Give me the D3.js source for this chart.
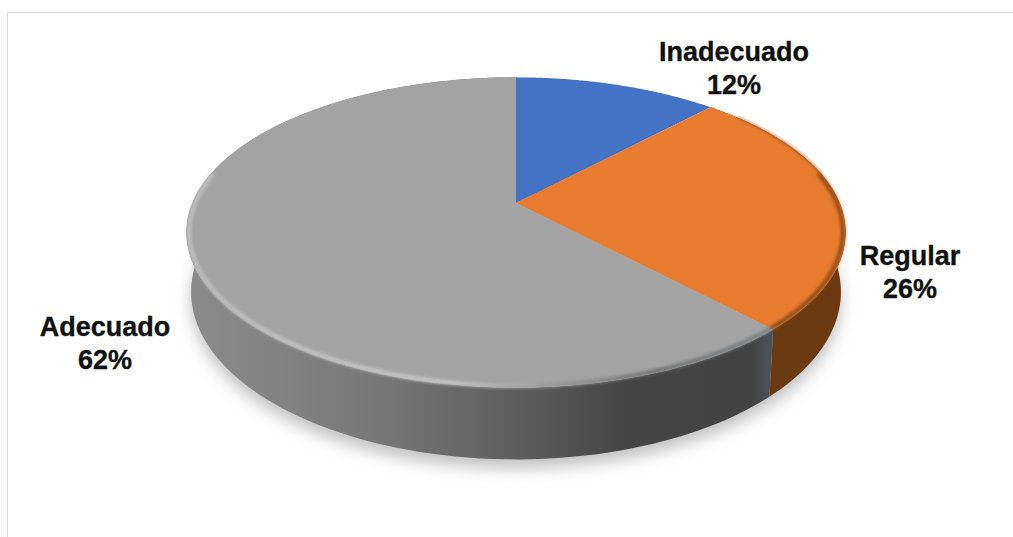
<!DOCTYPE html>
<html><head><meta charset="utf-8">
<script src="https://cdn.jsdelivr.net/npm/d3@7"></script>
<style>html,body{margin:0;padding:0;background:#fff}svg{display:block}text{font-family:"Liberation Sans",Arial,sans-serif;font-weight:700;font-size:27px;fill:#111;stroke:#111;stroke-width:.35px}</style>
</head><body><div id="c"></div>
<script>
const categories = ["Inadecuado", "Regular", "Adecuado"];
const values = [12, 26, 62];
const topColors = ["#4472c4", "#e97b2e", "#a3a3a3"];
const sideColors = ["#2a4a80", "#6c3a10", "#555555"];
const labelPos = [[734, 61], [910, 265], [105, 336]];

const W = 1013, H = 537;
const svg = d3.select("#c").append("svg").attr("width", W).attr("height", H);
const defs = svg.append("defs");
const blur = (id, s) => defs.append("filter").attr("id", id)
  .attr("x", "-20%").attr("y", "-20%").attr("width", "140%").attr("height", "140%")
  .append("feGaussianBlur").attr("stdDeviation", s);
blur("b1", 1.6); blur("sh", 8);

// perspective projection of the disc
const cx = 516, cy = 203, K = 0.19;
const project = (rx, ry, y0, inset) => a => {
  const x = Math.sin(a) * inset, y = -Math.cos(a) * inset, d = 1 - K * y;
  return [cx + rx * x / d, y0 + ry * y / d];
};
const topProj = project(323.6, 149.5, cy, 1);
const rimProj = project(323.6, 149.5, cy, 0.992);
const botProj = project(319, 161.5, 260, 1);

const pie = d3.pie().sort(null)(values);
const line = d3.line();
const samples = (a0, a1) => d3.range(0, 121).map(i => a0 + (a1 - a0) * i / 120);
const sector = (s) => line([[cx, cy], ...samples(s.startAngle, s.endAngle).map(topProj)]) + "Z";
const band = (a0, a1) => { const r = samples(a0, a1);
  return line([...r.map(topProj), ...r.slice().reverse().map(botProj)]) + "Z"; };
const arc = (a0, a1, proj) => line(samples(a0, a1).map(proj));
const rad = d => d * Math.PI / 180;

// gradient of the grey wall, from left to right
const wall = defs.append("linearGradient").attr("id", "wall").attr("gradientUnits", "userSpaceOnUse")
  .attr("x1", 186).attr("x2", 770).attr("y1", 0).attr("y2", 0);
[[0, "#8b8b8b"], [.3, "#7a7a7a"], [.55, "#606060"], [.75, "#454545"], [.97, "#434343"], [1, "#4a525a"]]
  .forEach(([o, c]) => wall.append("stop").attr("offset", o).attr("stop-color", c));
const rim = defs.append("linearGradient").attr("id", "rim").attr("gradientUnits", "userSpaceOnUse")
  .attr("x1", 186).attr("x2", 770).attr("y1", 0).attr("y2", 0);
[[0, "#bdbdbd"], [.45, "#c4c4c4"], [.6, "#a0a0a0"], [.8, "#767676"], [1, "#808488"]]
  .forEach(([o, c]) => rim.append("stop").attr("offset", o).attr("stop-color", c));

// frame
svg.append("path").attr("d", line([[7.5, H], [7.5, 12.5], [W, 12.5]])).attr("fill", "none").attr("stroke", "#d9d9d9");

// shadow
svg.append("path").attr("d", arc(0, 2 * Math.PI, a => { const p = botProj(a); return [p[0], p[1] + 9]; }))
  .attr("fill", "#c0c0c0").attr("filter", "url(#sh)");

// walls
const grey = pie[2], orange = pie[1];
svg.append("path").attr("d", band(grey.startAngle, grey.endAngle)).attr("fill", "url(#wall)");
svg.append("path").attr("d", band(orange.startAngle, orange.endAngle)).attr("fill", sideColors[1]);

// top faces
svg.selectAll("path.top").data(pie).join("path").attr("class", "top")
  .attr("d", sector).attr("fill", (d, i) => topColors[i]);

// bevel: only the near part of the rim catches the light
const g = svg.append("g");
g.append("path").attr("d", arc(grey.startAngle, rad(282), rimProj)).attr("fill", "none")
  .attr("stroke", "url(#rim)").attr("stroke-width", 4.5).attr("filter", "url(#b1)");
g.append("path").attr("d", arc(rad(78), orange.endAngle, rimProj)).attr("fill", "none")
  .attr("stroke", "#94501c").attr("stroke-width", 4.5).attr("filter", "url(#b1)");
g.append("path").attr("d", arc(rad(50), rad(78), topProj)).attr("fill", "none")
  .attr("stroke", "#8a4a18").attr("stroke-width", 1.5).attr("filter", "url(#b1)");

// labels
const lab = svg.append("g").selectAll("text").data(categories).join("text")
  .attr("text-anchor", "middle")
  .attr("transform", (d, i) => `translate(${labelPos[i][0]},${labelPos[i][1]})`);
lab.append("tspan").attr("x", 0).text(d => d);
lab.append("tspan").attr("x", 0).attr("dy", 33).text((d, i) => values[i] + "%");
</script></body></html>
